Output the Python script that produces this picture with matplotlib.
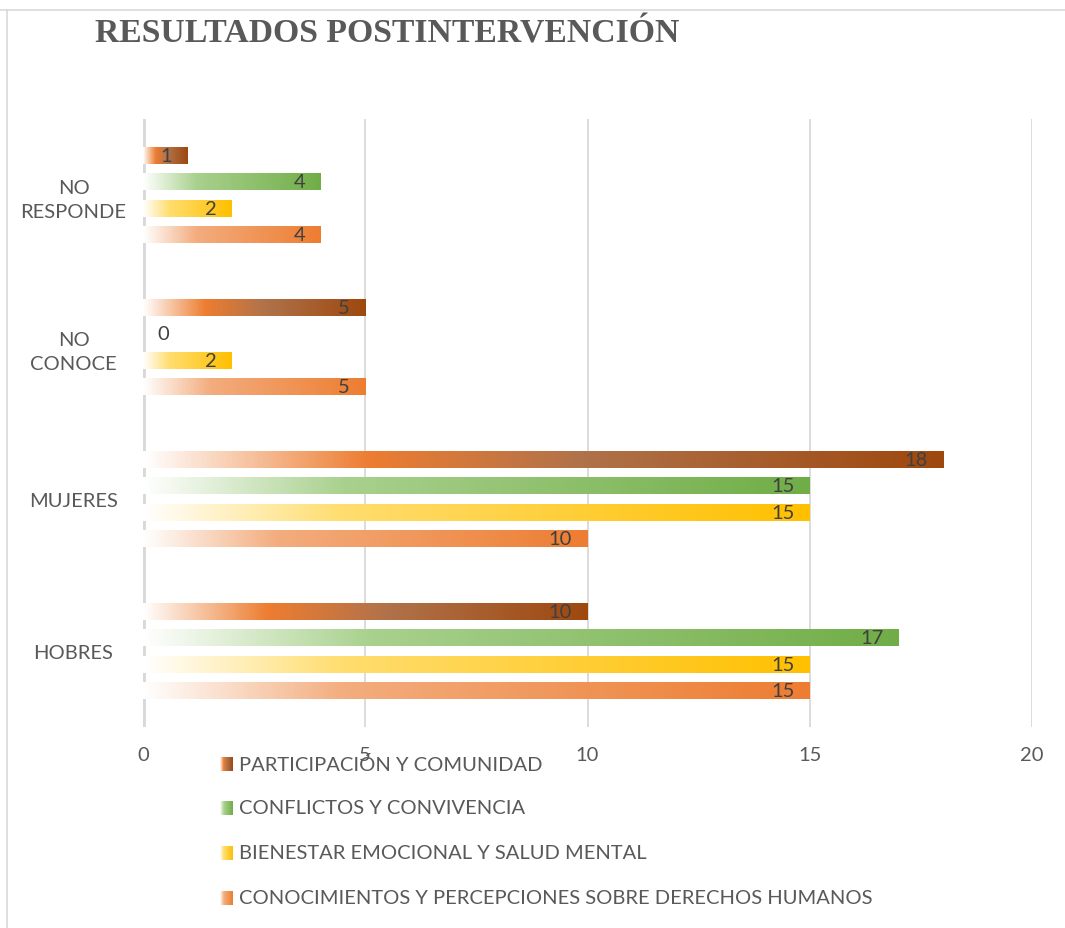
import matplotlib
matplotlib.use("Agg")
import matplotlib.pyplot as plt
import numpy as np
from matplotlib.colors import LinearSegmentedColormap
from matplotlib.lines import Line2D

categories = ["HOBRES", "MUJERES", "NO\nCONOCE", "NO\nRESPONDE"]
series_names = [
    "CONOCIMIENTOS Y PERCEPCIONES SOBRE DERECHOS HUMANOS",
    "BIENESTAR EMOCIONAL Y SALUD MENTAL",
    "CONFLICTOS Y CONVIVENCIA",
    "PARTICIPACIÓN Y COMUNIDAD",
]
conocimientos = [15, 10, 5, 4]
bienestar = [15, 15, 2, 2]
conflictos = [17, 15, 0, 4]
participacion = [10, 18, 5, 1]
series_values = [conocimientos, bienestar, conflictos, participacion]
xticks = [0, 5, 10, 15, 20]
title = "RESULTADOS POSTINTERVENCIÓN"

gradients = [
    [(0.0, "#FFFFFF"), (0.3, "#F3AD7E"), (1.0, "#ED7D31")],
    [(0.0, "#FFFFFF"), (0.3, "#FFDD6E"), (1.0, "#FFC000")],
    [(0.0, "#FFFFFF"), (0.3, "#A9D18E"), (1.0, "#70AD47")],
    [(0.0, "#FFFFFF"), (0.28, "#ED7D31"), (0.55, "#B0724A"), (1.0, "#9E480E")],
]
cmaps = [LinearSegmentedColormap.from_list(f"g{i}", g) for i, g in enumerate(gradients)]

plt.rcParams["font.family"] = ["Lato", "DejaVu Sans"]
W, H = 1065, 929
FS = 14.5
fig = plt.figure(figsize=(W / 100, H / 100), dpi=100)
ax = fig.add_axes([143 / W, 1 - 728 / H, (1032 - 143) / W, (728 - 120) / H])

offsets = [-0.263, -0.0875, 0.0875, 0.263]
bar_h = 0.112
grad = np.linspace(0, 1, 256).reshape(1, -1)
ypos = np.arange(len(categories))

for vals, off, cmap in zip(series_values, offsets, cmaps):
    bars = ax.barh(ypos + off, vals, height=bar_h, color="none", edgecolor="none", zorder=3)
    for b, v in zip(bars, vals):
        x0, y0 = b.get_x(), b.get_y()
        w, h = b.get_width(), b.get_height()
        if w > 0:
            im = ax.imshow(grad, cmap=cmap, extent=[x0, x0 + w, y0, y0 + h],
                           aspect="auto", zorder=3, interpolation="bilinear")
            im.set_clip_path(b)
        yc = y0 + h / 2
        if v > 0:
            ax.annotate(str(v), (x0 + w, yc), xytext=(-11, 0), textcoords="offset points",
                        ha="right", va="center", fontsize=FS, color="#404040", zorder=5)
        else:
            ax.annotate(str(v), (0, yc), xytext=(10, 0), textcoords="offset points",
                        ha="left", va="center", fontsize=FS, color="#404040", zorder=5)

ax.set_xlim(0, 20)
ax.set_ylim(-0.5, 3.5)
ax.set_xticks(xticks)
ax.set_xticklabels([str(t) for t in xticks])
ax.tick_params(axis="x", length=0, pad=14, labelsize=FS, labelcolor="#595959")
ax.set_yticks(ypos)
ax.set_yticklabels(categories, ha="center", multialignment="center", linespacing=1.45)
ax.tick_params(axis="y", length=0, pad=50, labelsize=FS, labelcolor="#595959")
for s in ax.spines.values():
    s.set_visible(False)
for t in xticks[1:]:
    ax.axvline(t, color="#D9D9D9", lw=1.3, zorder=1)
ax.axvline(0, color="#D9D9D9", lw=3.5, zorder=2)

# title
fig.text(95 / W, 1 - 34 / H, title, fontsize=24.3, fontweight="bold",
         family="Liberation Serif", color="#595959", va="center", ha="left")

# chart border (top and left)
fig.add_artist(Line2D([0, 1], [1 - 10.5 / H, 1 - 10.5 / H], color="#D9D9D9", lw=1.2,
                      transform=fig.transFigure))
fig.add_artist(Line2D([7 / W, 7 / W], [0, 1 - 10.5 / H], color="#D9D9D9", lw=1.2,
                      transform=fig.transFigure))

# legend (top to bottom: participacion, conflictos, bienestar, conocimientos)
leg_rows = [765, 809, 854, 899]
for row_y, idx in zip(leg_rows, [3, 2, 1, 0]):
    lax = fig.add_axes([220 / W, 1 - (row_y + 7) / H, 12 / W, 14 / H])
    lax.imshow(grad, cmap=cmaps[idx], aspect="auto", extent=[0, 1, 0, 1],
               interpolation="bilinear")
    lax.set_axis_off()
    fig.text(239 / W, 1 - row_y / H, series_names[idx], fontsize=FS, color="#595959",
             va="center", ha="left")

fig.savefig("out.png", dpi=100)
